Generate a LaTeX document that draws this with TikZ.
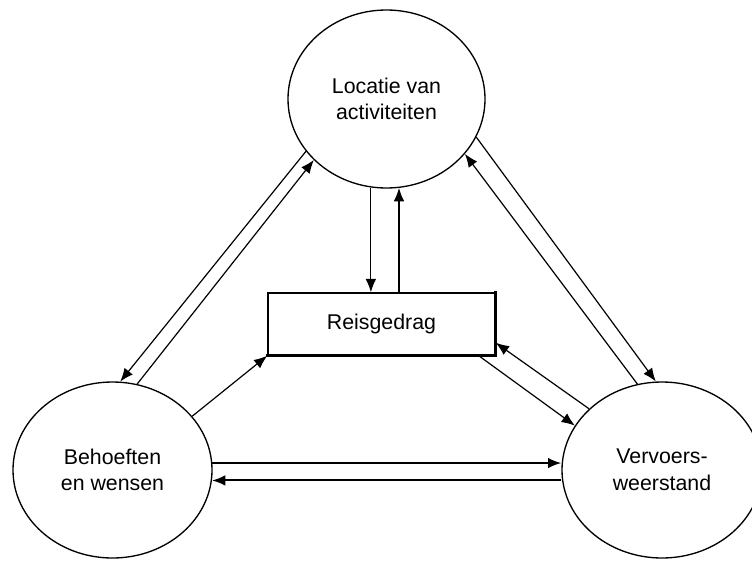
\documentclass[tikz,border=0pt]{standalone}
\usepackage{fontspec}
\setmainfont{Liberation Sans}
\usetikzlibrary{shapes.geometric,arrows.meta}
\begin{document}
\begin{tikzpicture}[x=0.75pt,y=-0.75pt,
  oval/.style={draw,ellipse,line width=1pt,inner sep=0pt,align=center,
    font=\fontsize{16}{20}\selectfont},
  box/.style={draw,rectangle,line width=1.1pt,inner sep=0pt,
    minimum width=170.25pt,minimum height=46.5pt,font=\fontsize{16}{20}\selectfont},
  arr/.style={line width=0.9pt,-{Latex[length=10pt,width=8pt]}},
  harr/.style={line width=1.5pt,-{Latex[length=10pt,width=8pt]}}]
\useasboundingbox (0,0) rectangle (752,560);
\node[oval,minimum width=147.75pt,minimum height=133.5pt] (top) at (386.5,99) {Locatie van\\activiteiten};
\node[oval,minimum width=149.25pt,minimum height=132pt] (left) at (112.5,470) {Behoeften\\en wensen};
\node[oval,minimum width=150pt,minimum height=132pt] (right) at (662,470) {Vervoers-\\weerstand};
\node[box] (rect) at (381.5,324) {Reisgedrag};
\draw[line width=2.2pt] ([xshift=-0.6pt]rect.south west) -- (rect.south east) -- ([yshift=0.6pt]rect.north east);
% top <-> left
\draw[arr] (top.213.7) -- (left.85.3);
\draw[arr] (left.74.3) -- (top.220);
% top <-> rect
\draw[arr] (top.260.6) -- (top.260.6 |- rect.north);
\draw[arr] (top.278.7 |- rect.north) -- (top.278.7);
% top <-> right
\draw[arr] (top.337.4) -- (right.94.4);
\draw[arr] (right.106) -- (top.325.2);
% left -> rect
\draw[arr] (left.34.3) -- (rect.south west);
% rect <-> right
\draw[arr] ([xshift=-12.75pt]rect.south east) -- (right.153.4);
\draw[arr] (right.140.2) -- ([yshift=9.75pt]rect.south east);
% left <-> right
\draw[harr] (left.4.6) -- (left.4.6 -| right.west);
\draw[harr] (left.354.3 -| right.west) -- (left.354.3);
\end{tikzpicture}
\end{document}
